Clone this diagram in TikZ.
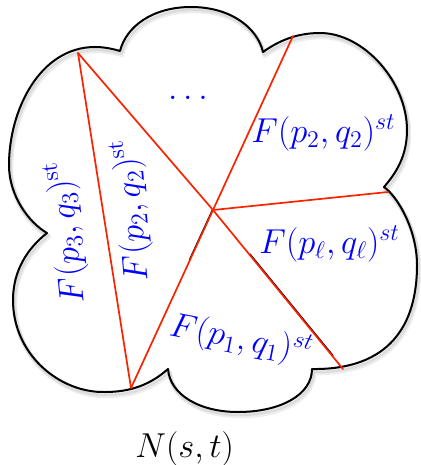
\documentclass[tikz,border=0pt]{standalone}
\usetikzlibrary{calc}
\definecolor{edgered}{RGB}{250,35,0}
\definecolor{lblue}{RGB}{0,0,255}
\newcommand\cloudoutline{(120,51) .. controls (126,27) and (152,7) .. (191,7)
 .. controls (230,7) and (257,27) .. (263,52)
 .. controls (277,42) and (295,33) .. (320,33)
 .. controls (364,33) and (407,82) .. (407,130)
 .. controls (407,155) and (397,172) .. (384,187)
 .. controls (398,197) and (417,230) .. (417,265)
 .. controls (417,335) and (380,370) .. (312,369)
 .. controls (312,395) and (280,412) .. (238,412)
 .. controls (200,412) and (170,395) .. (168,369)
 .. controls (150,385) and (130,392) .. (105,392)
 .. controls (60,393) and (13,355) .. (13,300)
 .. controls (13,270) and (28,248) .. (47,233)
 .. controls (28,222) and (9,195) .. (9,165)
 .. controls (9,110) and (40,47) .. (95,47)
 .. controls (105,47) and (113,49) .. (120,51) -- cycle}
\tikzset{
  outline/.style={line width=1pt, black, line join=round},
  cloudshadow/.style={line width=2.2pt, black, opacity=0.07, line join=round},
  cut/.style={line width=0.85pt, edgered, line cap=round},
  undercut/.style={line width=0.6pt, black},
  lbl/.style={text=lblue, inner sep=0pt, font=\fontsize{17.2}{20}\selectfont},
  caption/.style={text=black, inner sep=0pt, font=\fontsize{16.5}{20}\selectfont},
}
\begin{document}
\begin{tikzpicture}[x=0.5pt,y=-0.5pt]
\useasboundingbox (0,0) rectangle (420,465);
% soft shadow of the cloud
\draw[cloudshadow, shift={(1,2)}] \cloudoutline;
\draw[cloudshadow, shift={(2,4)}] \cloudoutline;
% cloud
\draw[outline] \cloudoutline;
% vertices of the cuts
\coordinate (A) at (78,53);
\coordinate (B) at (131,388);
\coordinate (C) at (213,210);
\coordinate (T) at (293,36);
\coordinate (R) at (388,192);
\coordinate (BR) at (343,369);
% thin black traces under two cuts
\draw[undercut] ($(C)+(-0.7,0)$) -- ($(C)!0.28!(B)+(-0.7,0)$);
\draw[undercut] ($(C)!0.28!(BR)+(0.6,-0.6)$) -- ($(C)!0.92!(BR)+(0.6,-0.6)$);
% red cuts
\draw[cut] (A) -- (B);
\draw[cut] (A) -- (C);
\draw[cut] (C) -- (BR);
\draw[cut] (C) -- (B);
\draw[cut] (C) -- (T);
\draw[cut] (C) -- (R);
% labels
\node[lbl, anchor=base] (dots) at (188,99) {$\dots$};
\node[lbl, anchor=base west] (f2) at (251,142) {$F(p_2,q_2)^{st}$};
\node[lbl, anchor=base west] (fl) at (259,253) {$F(p_\ell,q_\ell)^{st}$};
\node[lbl, rotate=-11] (f1) at (241,340) {$F(p_1,q_1)^{st}$};
\node[lbl, rotate=95] (f2r) at (132,210) {$F(p_2,q_2)^{\mathrm{st}}$};
\node[lbl, rotate=96] (f3) at (67,232) {$F(p_3,q_3)^{\mathrm{st}}$};
\node[caption, anchor=base west] (N) at (135,457) {$N(s,t)$};
\end{tikzpicture}
\end{document}
